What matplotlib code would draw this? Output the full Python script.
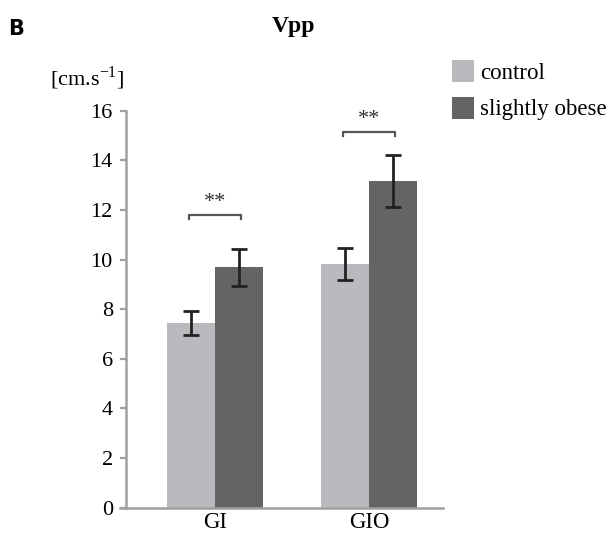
import matplotlib.pyplot as plt
import numpy as np

groups = ["GI", "GIO"]
control = [7.45, 9.82]
control_err = [0.48, 0.64]
obese = [9.68, 13.15]
obese_err = [0.74, 1.05]
sig_levels = [11.8, 15.15]
sig_labels = ["**", "**"]

plt.rcParams['font.family'] = ['Liberation Serif', 'DejaVu Serif']

fig = plt.figure(figsize=(6.16, 5.38), dpi=100)
ax = fig.add_axes([0.2045, 0.0563, 0.5146, 0.738])

x = np.arange(len(groups))
w = 0.31
c_light = "#b9babd"
c_dark = "#636466"
ax.bar(x - w / 2, control, w, color=c_light, label="control")
ax.bar(x + w / 2, obese, w, color=c_dark, label="slightly obese")
ax.errorbar(x - w / 2, control, yerr=control_err, fmt="none", ecolor="#222222",
            elinewidth=2.0, capsize=5.5, capthick=2.0)
ax.errorbar(x + w / 2, obese, yerr=obese_err, fmt="none", ecolor="#222222",
            elinewidth=2.0, capsize=5.5, capthick=2.0)

# significance brackets
for xi, lvl, lab in zip(x, sig_levels, sig_labels):
    x0, x1 = xi - 0.168, xi + 0.168
    ax.plot([x0, x0, x1, x1], [lvl - 0.16, lvl, lvl, lvl - 0.16], color="#555555", lw=1.6)
    ax.text(xi, lvl + 0.12, lab, ha="center", va="bottom", fontsize=16, color="#333333")

ax.set_xlim(-0.578, 1.481)
ax.set_ylim(0, 16)
ax.set_yticks(range(0, 17, 2))
ax.set_xticks(x)
ax.set_xticklabels(groups)
ax.tick_params(axis="y", labelsize=16, color="#a0a0a0", length=4.5, width=1.6, pad=5)
ax.tick_params(axis="x", labelsize=16.5, length=0, pad=3)
for s in ["top", "right"]:
    ax.spines[s].set_visible(False)
for s in ["left", "bottom"]:
    ax.spines[s].set_color("#a0a0a0")
    ax.spines[s].set_linewidth(1.8)
ax.spines["bottom"].set_bounds(-0.617, 1.481)

fig.text(0.013, 0.946, "B", fontsize=15, fontweight="bold", family="DejaVu Sans", va="center")
fig.text(0.476, 0.94, "Vpp", fontsize=17, fontweight="bold", ha="center", va="baseline")
fig.text(0.081, 0.855, r"[cm.s$^{\mathregular{-1}}$]", fontsize=16, ha="left", va="center")

fig.legend(loc="upper left", bbox_to_anchor=(0.733, 0.888), frameon=False, fontsize=16.5,
           handlelength=1.0, handleheight=1.1, handletextpad=0.25, labelspacing=0.55,
           borderaxespad=0, borderpad=0)

plt.savefig("out.png", dpi=100)
